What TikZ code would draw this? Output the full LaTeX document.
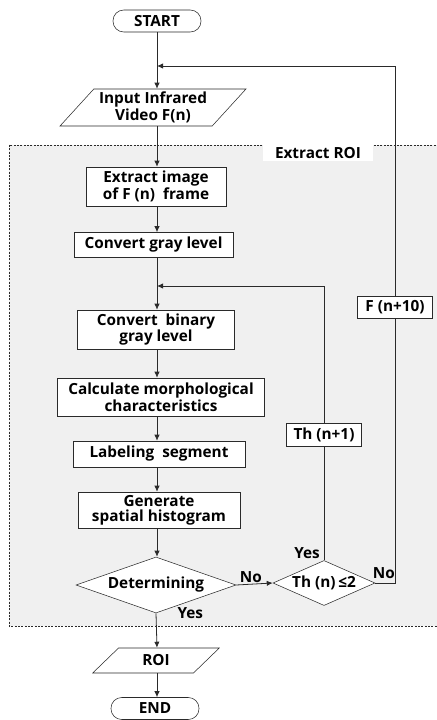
\documentclass[tikz,border=0pt]{standalone}
\usepackage{fontspec}
\setmainfont{Open Sans}
\usetikzlibrary{shapes.geometric,arrows.meta}
\definecolor{roigray}{HTML}{F0F0F0}
\definecolor{linegray}{HTML}{2A2A2A}
\tikzset{
  txt/.style={font=\bfseries\fontsize{11.5}{11}\selectfont},
  proc/.style={txt, draw=linegray, fill=white, rectangle, inner sep=0pt, align=center},
  term/.style={proc, rounded corners=8pt, minimum width=66pt, minimum height=16.5pt},
  io/.style={proc, trapezium, trapezium left angle=#1, trapezium right angle=180-#1, trapezium stretches=true},
  decide/.style={proc, diamond, aspect=#1},
  lbl/.style={txt, inner sep=1pt},
  conn/.style={draw=linegray, line width=0.6pt},
  arr/.style={conn, -{Latex[length=4.5pt,width=4pt]}}
}
\begin{document}
\begin{tikzpicture}[x=0.75pt,y=-0.75pt]
\useasboundingbox (0,0) rectangle (436,720);
\fill[roigray] (9,145) rectangle (438,626);
\draw[linegray, dash pattern=on 1.5pt off 1pt, line width=0.5pt] (9,145) rectangle (438,626);
\node[lbl, fill=white, minimum width=82.5pt, minimum height=12pt] (roilabel) at (318,153) {Extract ROI};
\coordinate (spine) at (157,0);
\node[term] (start) at (157,21) {START};
\node[io=45, minimum width=139.5pt, minimum height=27.75pt] (input) at (153,107.5) {Input Infrared\\Video F(n)};
\node[proc, minimum width=105pt, minimum height=29.25pt] (extract) at (156,186.5) {Extract image\\of F (n)~ frame};
\node[proc, minimum width=119.25pt, minimum height=18.75pt] (gray) at (153.5,245) {Convert gray level};
\node[proc, minimum width=117.75pt, minimum height=29.25pt] (binary) at (156,329.5) {Convert~ binary\\gray level};
\node[proc, minimum width=155.25pt, minimum height=28.5pt] (morph) at (161,397) {Calculate morphological\\characteristics};
\node[proc, minimum width=129pt, minimum height=19.5pt] (labeling) at (159,454) {Labeling~ segment};
\node[proc, minimum width=121.5pt, minimum height=27pt] (hist) at (159,510) {Generate\\spatial histogram};
\node[decide=2.86, minimum width=120pt, minimum height=42pt] (det) at (156,585) {Determining};
\node[decide=2.27, inner xsep=-8pt, minimum width=76.5pt, minimum height=33.75pt] (th) at (324,583) {Th (n)$\,$≤2};
\node[proc, minimum width=56.25pt, minimum height=16.5pt] (fnext) at (395,307) {F (n+10)};
\node[proc, minimum width=56.25pt, minimum height=17.25pt] (thnext) at (324,434.5) {Th (n+1)};
\node[io=50, minimum width=95.25pt, minimum height=18.75pt] (roi) at (156,660.5) {ROI};
\node[term] (end) at (155,708.5) {END};
\coordinate (fjoin) at (157,66);
\coordinate (thjoin) at (157,286);
\draw[arr] (start) -- (spine |- input.north);
\draw[arr] (spine |- input.south) -- (spine |- extract.north);
\draw[arr] (spine |- extract.south) -- (spine |- gray.north);
\draw[arr] (spine |- gray.south) -- (spine |- binary.north);
\draw[arr] (spine |- binary.south) -- (spine |- morph.north);
\draw[arr] (spine |- morph.south) -- (spine |- labeling.north);
\draw[arr] (spine |- labeling.south) -- (spine |- hist.north);
\draw[arr] (spine |- hist.south) -- (spine |- det.north);
\draw[arr] (det.south) -- (spine |- roi.north);
\draw[arr] (spine |- roi.south) -- (spine |- end.north);
\draw[arr] (det.east) -- node[lbl, above, pos=0.4] {No} (th.west);
\draw[conn] (th.north) -- (thnext.south);
\draw[arr] (thnext.north) |- (thjoin);
\draw[conn] (th.east) -| (fnext.south);
\draw[arr] (fnext.north) |- (fjoin);
\node[lbl, anchor=south east, xshift=-2pt] (thyes) at (th.north) {Yes};
\node[lbl, anchor=south west, xshift=-3pt, yshift=2pt] (thno) at (th.east) {No};
\node[lbl, anchor=west, xshift=15pt] (detyes) at (det.south) {Yes};
\end{tikzpicture}
\end{document}
